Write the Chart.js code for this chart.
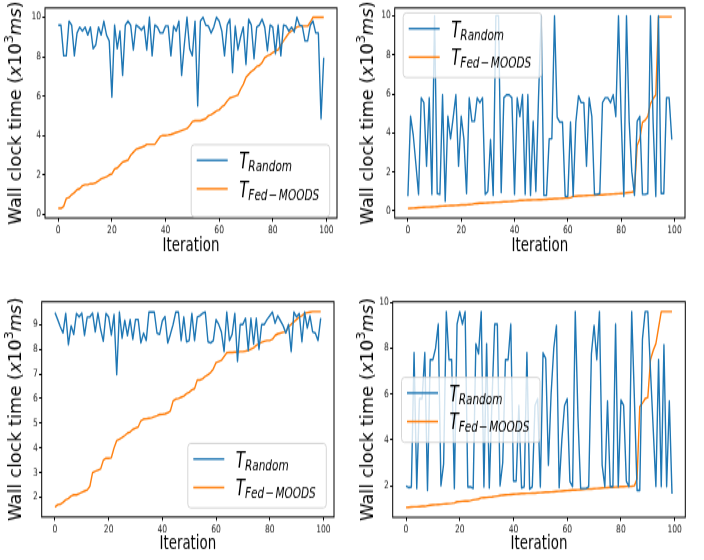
<!DOCTYPE html>
<html>
<head>
<meta charset="utf-8">
<script src="https://cdn.jsdelivr.net/npm/chart.js@4.4.1/dist/chart.umd.min.js"></script>
<style>
  html, body { margin: 0; padding: 0; background: #fff; }
  #fig { position: relative; width: 704px; height: 560px; overflow: hidden; }
  #fig canvas { position: absolute; width: 352px; height: 280px; }
</style>
</head>
<body>
<div id="fig">
  <canvas id="c1" width="352" height="203" style="left:0;top:0;width:352px;height:280px"></canvas>
  <canvas id="c2" width="352" height="203" style="left:352px;top:0;width:352px;height:280px"></canvas>
  <canvas id="c3" width="352" height="203" style="left:0;top:280px;width:352px;height:280px"></canvas>
  <canvas id="c4" width="352" height="203" style="left:352px;top:280px;width:352px;height:280px"></canvas>
</div>
<script>
// the source figure was stretched vertically, so each canvas is drawn short and scaled up by css
const S = 280 / 203;
const BLUE = '#1f77b4', ORANGE = '#ff7f0e';

const iterations = Array.from({ length: 100 }, (_, i) => i);
const xTicks = [0, 20, 40, 60, 80, 100];
const yTicksTop = [0, 2, 4, 6, 8, 10];
const yTicksBottomLeft = [2, 3, 4, 5, 6, 7, 8, 9];
const yTicksBottomRight = [2, 4, 6, 8, 10];

// top left
const randomTL = [
  9.6, 9.6, 8.05, 8.05, 9.8, 9.6, 8.05, 9.2, 9.5, 9.3,
  9.5, 9.1, 9.5, 8.4, 8.6, 9.5, 9.1, 9.8, 9.1, 8.8,
  5.95, 9.6, 8.4, 9.3, 7.05, 9.6, 9.8, 9.6, 8.35, 9.6,
  9.5, 9.35, 9.55, 8.35, 10.0, 8.05, 9.6, 9.5, 9.2, 9.2,
  9.55, 9.55, 8.05, 9.55, 9.3, 9.8, 7.05, 8.6, 10.0, 8.4,
  8.05, 9.8, 5.5, 9.8, 10.0, 9.6, 9.55, 9.2, 9.5, 10.0,
  9.8, 9.3, 8.05, 9.6, 9.9, 7.2, 9.55, 8.35, 9.0, 9.5,
  7.6, 9.9, 9.6, 7.9, 9.5, 9.6, 9.9, 9.5, 8.3, 9.6,
  9.5, 8.15, 9.6, 8.05, 9.6, 9.55, 9.3, 9.5, 9.25, 10.0,
  9.6, 9.55, 8.8, 8.8, 9.6, 9.8, 9.2, 9.2, 4.85, 7.95
];
const fedTL = [
  0.3, 0.3, 0.4, 0.8, 0.85, 1.0, 1.1, 1.25, 1.3, 1.45,
  1.5, 1.5, 1.55, 1.55, 1.6, 1.7, 1.8, 1.85, 1.9, 2.0,
  2.05, 2.3, 2.35, 2.5, 2.65, 2.7, 2.75, 3.0, 3.15, 3.3,
  3.35, 3.4, 3.45, 3.55, 3.55, 3.55, 3.55, 3.75, 3.95, 4.0,
  4.0, 4.02, 4.05, 4.1, 4.15, 4.2, 4.25, 4.3, 4.35, 4.5,
  4.7, 4.75, 4.75, 4.75, 4.8, 4.85, 5.0, 5.05, 5.15, 5.25,
  5.3, 5.45, 5.55, 5.75, 5.9, 5.95, 6.0, 6.05, 6.35, 6.6,
  6.95, 7.1, 7.25, 7.35, 7.5, 7.55, 7.7, 7.95, 8.05, 8.1,
  8.2, 8.3, 8.35, 8.6, 8.8, 9.0, 9.2, 9.3, 9.4, 9.5,
  9.55, 9.55, 9.55, 9.55, 9.75, 10.0, 10.0, 10.0, 10.0, 10.0
];

// top right
const randomTR = [
  0.75, 4.85, 3.9, 2.4, 0.85, 5.8, 5.55, 2.3, 5.8, 0.85,
  10.0, 0.9, 0.85, 5.95, 0.5, 4.85, 3.7, 4.8, 5.95, 2.3,
  4.85, 3.7, 0.9, 5.8, 4.6, 4.6, 5.8, 5.55, 5.8, 0.85,
  1.0, 3.65, 0.8, 10.0, 10.0, 0.95, 5.8, 5.95, 5.95, 5.8,
  0.85, 5.8, 4.85, 5.95, 0.85, 5.95, 0.8, 4.6, 1.0, 5.8,
  10.0, 0.8, 0.8, 3.7, 3.7, 10.0, 4.8, 4.55, 4.55, 0.75,
  0.75, 4.55, 0.75, 4.55, 5.9, 5.55, 5.55, 2.3, 5.8, 4.85,
  0.85, 0.85, 0.9, 5.55, 5.8, 5.8, 5.55, 5.95, 4.85, 10.0,
  4.8, 0.75, 10.0, 4.6, 2.0, 0.8, 4.6, 4.85, 0.85, 0.85,
  0.9, 10.0, 4.5, 0.75, 10.0, 0.9, 0.9, 5.8, 5.8, 3.65
];
const fedTR = [
  0.13, 0.14, 0.15, 0.16, 0.17, 0.18, 0.19, 0.2, 0.2, 0.21,
  0.22, 0.23, 0.24, 0.25, 0.26, 0.27, 0.28, 0.28, 0.29, 0.3,
  0.31, 0.32, 0.32, 0.33, 0.34, 0.38, 0.39, 0.4, 0.4, 0.41,
  0.42, 0.43, 0.44, 0.45, 0.45, 0.46, 0.47, 0.47, 0.48, 0.49,
  0.5, 0.52, 0.54, 0.54, 0.55, 0.56, 0.56, 0.57, 0.57, 0.58,
  0.58, 0.59, 0.6, 0.61, 0.62, 0.63, 0.63, 0.64, 0.65, 0.66,
  0.67, 0.68, 0.75, 0.76, 0.77, 0.77, 0.78, 0.79, 0.8, 0.8,
  0.81, 0.82, 0.83, 0.83, 0.84, 0.85, 0.86, 0.87, 0.88, 0.89,
  0.9, 0.91, 0.93, 0.95, 0.97, 1.0, 3.35, 3.7, 4.55, 4.65,
  4.85, 5.5, 5.75, 5.95, 9.95, 9.95, 9.95, 9.95, 9.95, 9.95
];

// bottom left
const randomBL = [
  9.48, 9.2, 8.9, 8.65, 9.45, 8.18, 8.95, 8.6, 9.45, 9.3,
  9.46, 8.56, 9.3, 9.3, 9.46, 8.7, 9.46, 8.8, 8.32, 9.45,
  9.3, 8.57, 9.4, 6.97, 9.5, 8.45, 9.17, 8.55, 9.2, 8.4,
  9.2, 9.2, 8.25, 8.65, 8.35, 9.5, 9.5, 9.5, 8.65, 8.6,
  9.15, 9.32, 8.25, 8.6, 9.0, 9.5, 9.5, 8.35, 9.3, 8.3,
  8.35, 9.45, 8.35, 9.3, 9.35, 9.45, 9.5, 8.3, 8.25, 8.35,
  9.2, 9.0, 8.7, 7.9, 9.5, 8.35, 8.6, 9.45, 7.5, 9.0,
  9.0, 9.25, 7.95, 9.25, 8.2, 9.25, 8.0, 9.0, 9.0, 9.2,
  9.35, 9.5, 9.05, 9.35, 9.15, 8.95, 8.65, 9.0, 7.9, 9.5,
  9.3, 9.45, 8.3, 9.5, 8.85, 9.35, 8.7, 8.65, 8.35, 9.25
];
const fedBL = [
  1.6, 1.7, 1.72, 1.8, 1.9, 1.95, 2.05, 2.1, 2.1, 2.15,
  2.2, 2.25, 2.3, 2.45, 3.0, 3.05, 3.1, 3.15, 3.5, 3.58,
  3.58, 3.6, 4.0, 4.3, 4.35, 4.42, 4.5, 4.6, 4.65, 4.75,
  4.8, 4.85, 5.1, 5.17, 5.18, 5.2, 5.22, 5.26, 5.3, 5.35,
  5.36, 5.38, 5.42, 5.5, 5.9, 5.98, 6.0, 6.05, 6.1, 6.2,
  6.25, 6.35, 6.4, 6.75, 6.75, 6.8, 6.9, 6.97, 7.05, 7.2,
  7.45, 7.5, 7.55, 7.7, 7.85, 7.87, 7.87, 7.88, 7.88, 7.9,
  7.9, 7.92, 7.95, 8.0, 8.05, 8.15, 8.22, 8.28, 8.32, 8.35,
  8.35, 8.4, 8.55, 8.62, 8.65, 8.68, 8.7, 8.9, 9.0, 9.1,
  9.2, 9.3, 9.35, 9.45, 9.48, 9.5, 9.52, 9.52, 9.52, 9.52
];

// bottom right
const randomBR = [
  1.98, 1.92, 1.95, 7.8, 1.88, 5.8, 5.8, 7.8, 1.8, 7.5,
  7.5, 8.0, 9.05, 2.0, 2.95, 9.6, 7.5, 7.5, 1.88, 9.05,
  9.6, 9.05, 9.6, 1.95, 1.95, 1.88, 8.2, 7.75, 9.6, 1.95,
  8.2, 1.9, 5.7, 9.05, 9.05, 2.0, 3.0, 7.5, 7.5, 9.05,
  2.2, 2.2, 5.5, 1.9, 1.95, 7.8, 1.85, 1.95, 5.5, 5.8,
  1.95, 7.8, 7.55, 2.9, 6.0, 8.0, 9.0, 1.92, 4.0, 5.5,
  5.8, 2.18, 1.96, 9.6, 5.0, 1.88, 1.88, 1.88, 1.96, 7.75,
  9.0, 7.5, 9.6, 2.9, 1.96, 5.7, 1.96, 1.96, 9.05, 1.96,
  5.75, 5.5, 2.2, 1.96, 9.6, 5.8, 1.8, 1.8, 8.4, 9.6,
  9.6, 7.0, 4.5, 1.97, 7.5, 1.96, 8.15, 1.96, 5.7, 1.65
];
const fedBR = [
  1.05, 1.06, 1.07, 1.08, 1.08, 1.09, 1.1, 1.1, 1.13, 1.15,
  1.16, 1.17, 1.18, 1.19, 1.2, 1.21, 1.22, 1.23, 1.25, 1.3,
  1.31, 1.32, 1.33, 1.33, 1.35, 1.38, 1.4, 1.42, 1.47, 1.48,
  1.49, 1.5, 1.51, 1.53, 1.55, 1.57, 1.59, 1.6, 1.61, 1.62,
  1.63, 1.64, 1.65, 1.66, 1.66, 1.67, 1.67, 1.68, 1.68, 1.69,
  1.7, 1.71, 1.72, 1.72, 1.73, 1.74, 1.75, 1.76, 1.77, 1.78,
  1.79, 1.8, 1.81, 1.81, 1.82, 1.83, 1.84, 1.85, 1.86, 1.86,
  1.87, 1.88, 1.89, 1.9, 1.91, 1.92, 1.93, 1.93, 1.94, 1.95,
  1.96, 1.96, 1.97, 1.97, 1.98, 2.0, 2.3, 5.45, 5.6, 5.8,
  5.85, 7.5, 7.9, 8.2, 8.9, 9.6, 9.6, 9.6, 9.6, 9.6
];

const FONT = '"DejaVu Sans", "Liberation Sans", sans-serif';
const LABEL_SIZE = 13.4;

// draw a run of differently styled pieces, left to right
function richWidth(ctx, parts){
  let w = 0;
  parts.forEach(p => { ctx.font = p.font; w += ctx.measureText(p.text).width + (p.gap || 0); });
  return w;
}
function drawRich(ctx, parts, x, y){
  let cx = x;
  parts.forEach(p => {
    ctx.font = p.font;
    ctx.fillText(p.text, cx, y + (p.dy || 0));
    cx += ctx.measureText(p.text).width + (p.gap || 0);
  });
}

const it = s => `italic ${s}px ${FONT}`;
const up = s => `${s}px ${FONT}`;
const legendLabels = [
  [{ text: 'T', font: it(15) }, { text: 'Random', font: it(10.5), dy: 2 }],
  [{ text: 'T', font: it(15) }, { text: 'Fed', font: it(10.5), dy: 2, gap: 1 },
   { text: '\u2212', font: up(10.5), dy: 2, gap: 1.5 }, { text: 'MOODS', font: it(10.5), dy: 2 }]
];
const Y_SIZE = 13;
const yLabel = [
  { text: 'Wall clock time (', font: up(Y_SIZE) },
  { text: 'x', font: it(Y_SIZE) },
  { text: '10', font: up(Y_SIZE) },
  { text: '3', font: up(Y_SIZE * 0.7), dy: -Y_SIZE * 0.42 },
  { text: 'ms', font: it(Y_SIZE) },
  { text: ')', font: up(Y_SIZE) }
];

const framePlugin = {
  id: 'frame',
  afterDatasetsDraw(chart){
    const { ctx, chartArea: a } = chart;
    ctx.save();
    ctx.strokeStyle = '#000';
    ctx.lineWidth = 1;
    ctx.strokeRect(a.left, a.top, a.right - a.left, a.bottom - a.top);
    ctx.restore();
  }
};

const legendPlugin = {
  id: 'mplLegend',
  afterDatasetsDraw(chart, args, opts){
    const ctx = chart.ctx;
    const x = opts.x, y = opts.y / S, w = 138.5, h = opts.h / S;
    ctx.save();
    ctx.beginPath();
    ctx.roundRect(x + 0.5, y + 0.5, w, h, 3);
    ctx.fillStyle = 'rgba(255,255,255,0.8)';
    ctx.fill();
    ctx.strokeStyle = 'rgba(204,204,204,0.8)';
    ctx.lineWidth = 1;
    ctx.stroke();
    chart.data.datasets.forEach((ds, i) => {
      const rowY = y + (16.3 + i * 28.5) / S;
      ctx.beginPath();
      ctx.moveTo(x + 6, rowY);
      ctx.lineTo(x + 37, rowY);
      ctx.strokeStyle = ds.borderColor;
      ctx.lineWidth = 1.4;
      ctx.stroke();
      ctx.fillStyle = '#000';
      ctx.textAlign = 'left';
      ctx.textBaseline = 'alphabetic';
      drawRich(ctx, legendLabels[i], x + 48.5, rowY + 5.8);
    });
    ctx.restore();
  }
};

// y title keeps natural proportions: scale glyph height to undo the css stretch
const yTitlePlugin = {
  id: 'yTitle',
  afterDraw(chart, args, opts){
    const { ctx, chartArea: a } = chart;
    const cy = (a.top + a.bottom) / 2;
    ctx.save();
    ctx.translate(opts.x, cy);
    ctx.rotate(-Math.PI / 2);
    ctx.scale(1, S);
    ctx.fillStyle = '#000';
    ctx.textAlign = 'left';
    ctx.textBaseline = 'alphabetic';
    const w = richWidth(ctx, yLabel);
    drawRich(ctx, yLabel, -w / 2, 0);
    ctx.restore();
  }
};

const panels = [
  { id: 'c1', rand: randomTL, fed: fedTL, yMin: -0.19, yMax: 10.47, yTicks: yTicksTop,
    area: { left: 45, top: 3, right: 337, bottom: 218 }, legend: { x: 190.7, y: 144, h: 72 }, xTitleY: 246 },
  { id: 'c2', rand: randomTR, fed: fedTR, yMin: -0.36, yMax: 10.4, yTicks: yTicksTop,
    area: { left: 42.7, top: 4, right: 333, bottom: 218 }, legend: { x: 50.7, y: 12.3, h: 64.5 }, xTitleY: 246 },
  { id: 'c3', rand: randomBL, fed: fedBL, yMin: 1.2, yMax: 9.92, yTicks: yTicksBottomLeft,
    area: { left: 41.7, top: 21.7, right: 334, bottom: 237 }, legend: { x: 187.3, y: 162.7, h: 64.5 }, xTitleY: 264.7 },
  { id: 'c4', rand: randomBR, fed: fedBR, yMin: 0.62, yMax: 10.03, yTicks: yTicksBottomRight,
    area: { left: 40.7, top: 21.7, right: 333.3, bottom: 237.3 }, legend: { x: 49, y: 96.7, h: 65 }, xTitleY: 264 }
];

function build(p){
  const canvas = document.getElementById(p.id);
  const H = canvas.height;
  const top = p.area.top / S, bottom = p.area.bottom / S;
  const titleLine = LABEL_SIZE * 1.2;
  const tickFont = { family: FONT, size: 7.6 };
  const axisGrid = { display: true, drawOnChartArea: false, drawTicks: true, tickLength: 2.6, color: '#000', lineWidth: 1 };
  return new Chart(canvas, {
    type: 'line',
    data: {
      datasets: [
        { label: 'T_Random', data: p.rand.map((v, i) => ({ x: iterations[i], y: v })),
          borderColor: BLUE, borderWidth: 1.4, pointRadius: 0, tension: 0, borderJoinStyle: 'round' },
        { label: 'T_Fed-MOODS', data: p.fed.map((v, i) => ({ x: iterations[i], y: v })),
          borderColor: ORANGE, borderWidth: 1.4, pointRadius: 0, tension: 0, borderJoinStyle: 'round' }
      ]
    },
    options: {
      responsive: false, animation: false, devicePixelRatio: 1, events: [],
      layout: { padding: { left: 0, top: top, right: 352 - p.area.right, bottom: 0 } },
      plugins: {
        legend: { display: false }, tooltip: { enabled: false },
        mplLegend: p.legend,
        yTitle: { x: 21 }
      },
      scales: {
        x: {
          type: 'linear', min: -4.95, max: 103.95,
          afterBuildTicks: s => { s.ticks = xTicks.map(v => ({ value: v })); },
          afterFit: s => { s.height = H - bottom; },
          grid: axisGrid, border: { display: false },
          ticks: { color: '#222', font: tickFont, padding: 1.6, maxRotation: 0, autoSkip: false },
          title: { display: true, text: 'Iteration', color: '#000', font: { family: FONT, size: LABEL_SIZE },
                   padding: { top: 0, bottom: H - p.xTitleY / S - titleLine / 2 } }
        },
        y: {
          min: p.yMin, max: p.yMax,
          afterBuildTicks: s => { s.ticks = p.yTicks.map(v => ({ value: v })); },
          afterFit: s => { s.width = p.area.left; },
          grid: axisGrid, border: { display: false },
          ticks: { color: '#222', font: tickFont, padding: 1.2 }
        }
      }
    },
    plugins: [framePlugin, legendPlugin, yTitlePlugin]
  });
}

panels.forEach(build);
</script>
</body>
</html>
